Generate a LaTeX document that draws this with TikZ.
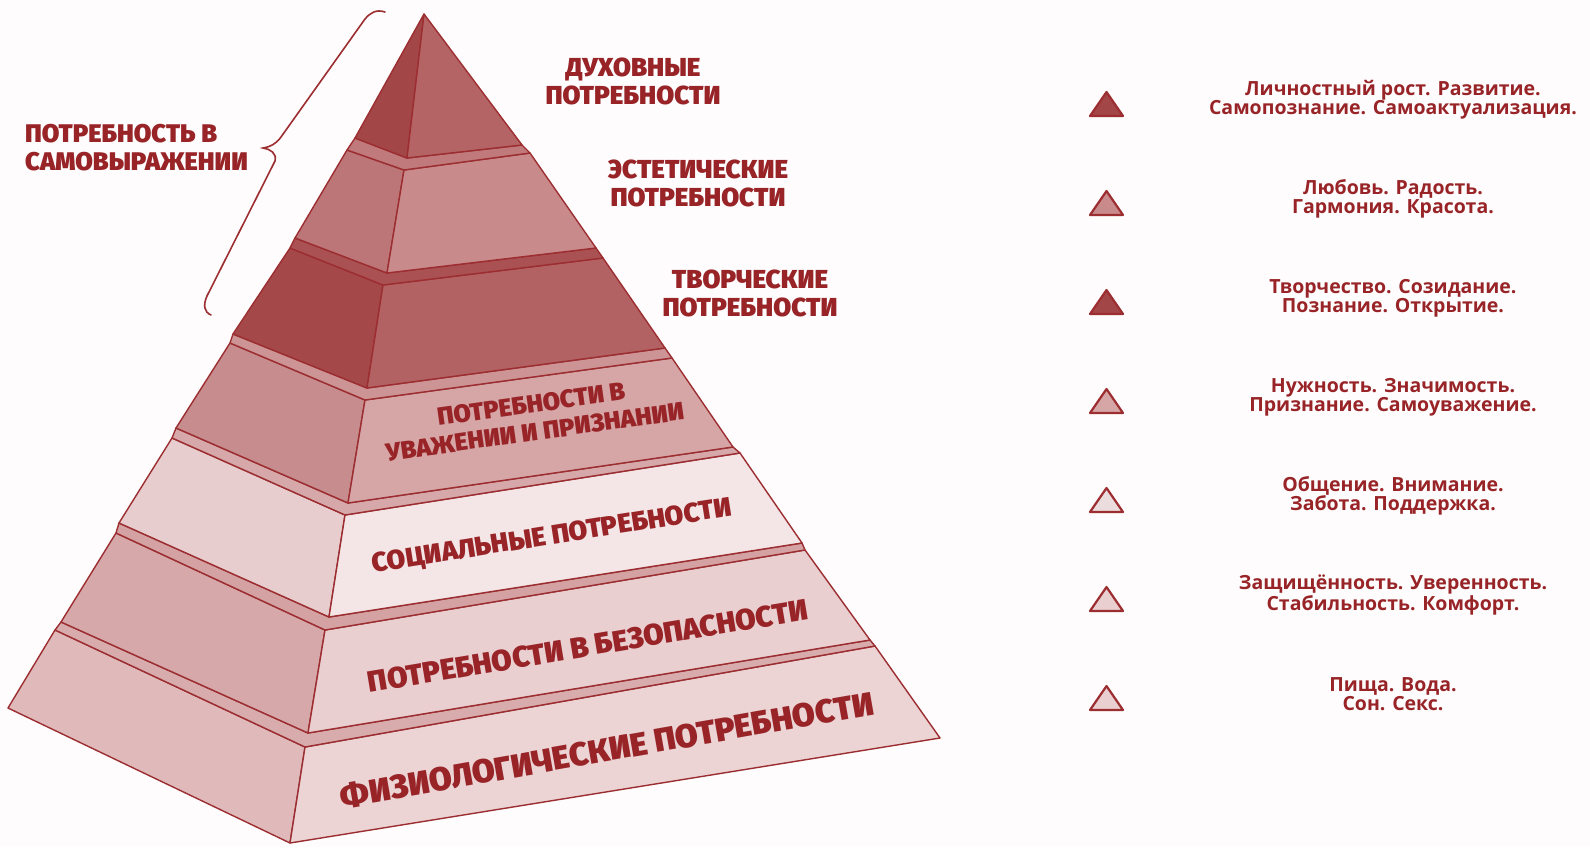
\documentclass[tikz,border=0pt]{standalone}
\usepackage{fontspec}
\setmainfont{Open Sans}
\newfontfamily\capsfont{Fira Sans Black}
\usetikzlibrary{positioning}

% tones of the pyramid
\definecolor{ink}{RGB}{152,36,40}
\definecolor{edge}{RGB}{156,46,50}
\definecolor{paper}{RGB}{254,252,252}
\definecolor{side1}{RGB}{163,70,72}   \definecolor{front1}{RGB}{180,100,101}
\definecolor{side2}{RGB}{188,118,119} \definecolor{front2}{RGB}{201,138,139} \definecolor{ledge2}{RGB}{192,122,123}
\definecolor{side3}{RGB}{164,72,73}   \definecolor{front3}{RGB}{178,98,99}   \definecolor{ledge3}{RGB}{170,82,83}
\definecolor{side4}{RGB}{199,140,141} \definecolor{front4}{RGB}{214,166,167} \definecolor{ledge4}{RGB}{205,148,149}
\definecolor{side5}{RGB}{232,205,206} \definecolor{front5}{RGB}{244,229,230} \definecolor{ledge5}{RGB}{214,168,169}
\definecolor{side6}{RGB}{214,168,169} \definecolor{front6}{RGB}{234,207,208} \definecolor{ledge6}{RGB}{212,162,163}
\definecolor{side7}{RGB}{224,186,187} \definecolor{front7}{RGB}{236,212,213} \definecolor{ledge7}{RGB}{216,172,173}
\definecolor{mark5}{RGB}{235,220,221}

\tikzset{
  face/.style={draw=edge, line width=1.4pt, line join=round},
  caps/.style={font=\capsfont\fontsize{26}{28}\selectfont, text=ink, align=center, inner sep=0pt},
  note/.style={font=\bfseries\fontsize{19.5}{19}\selectfont, text=ink, align=center, inner sep=0pt},
  levelmark/.style={draw=edge, line width=2.2pt, line join=round}
}

\begin{document}
\begin{tikzpicture}[x=1pt,y=-1pt]
  \fill[paper] (0,0) rectangle (1590,847);
  \useasboundingbox (0,0) rectangle (1590,847);

  % corners of the blocks: L/F/R = left, front, right, t/b = top, bottom
  \coordinate (apex) at (424,14);
  \coordinate (Lb1) at (355,138); \coordinate (Fb1) at (407,158); \coordinate (Rb1) at (522,145);
  \coordinate (Lt2) at (347,150); \coordinate (Ft2) at (404,170); \coordinate (Rt2) at (530,153);
  \coordinate (Lb2) at (295,238); \coordinate (Fb2) at (387,273); \coordinate (Rb2) at (596,248);
  \coordinate (Lt3) at (290,248); \coordinate (Ft3) at (383,285); \coordinate (Rt3) at (603,258);
  \coordinate (Lb3) at (233,334); \coordinate (Fb3) at (367,388); \coordinate (Rb3) at (665,348);
  \coordinate (Lt4) at (230,343); \coordinate (Ft4) at (365,400); \coordinate (Rt4) at (672,358);
  \coordinate (Lb4) at (176,428); \coordinate (Fb4) at (348,503); \coordinate (Rb4) at (733,447);
  \coordinate (Lt5) at (172,438); \coordinate (Ft5) at (345,515); \coordinate (Rt5) at (740,453);
  \coordinate (Lb5) at (119,523); \coordinate (Fb5) at (329,617); \coordinate (Rb5) at (802,543);
  \coordinate (Lt6) at (116,533); \coordinate (Ft6) at (325,630); \coordinate (Rt6) at (805,550);
  \coordinate (Lb6) at (61,622);  \coordinate (Fb6) at (308,733); \coordinate (Rb6) at (870,640);
  \coordinate (Lt7) at (55,630);  \coordinate (Ft7) at (305,747); \coordinate (Rt7) at (875,646);
  \coordinate (Lb7) at (8,708);   \coordinate (Fb7) at (290,843); \coordinate (Rb7) at (940,738);

  % blocks from the bottom up, each with the ledge it carries
  \foreach \k/\up in {7/6,6/5,5/4,4/3,3/2,2/1}{
    \draw[face, fill=side\k] (Lt\k) -- (Ft\k) -- (Fb\k) -- (Lb\k) -- cycle;
    \draw[face, fill=front\k] (Ft\k) -- (Rt\k) -- (Rb\k) -- (Fb\k) -- cycle;
    \draw[face, fill=ledge\k] (Lt\k) -- (Ft\k) -- (Rt\k) -- (Rb\up) -- (Fb\up) -- (Lb\up) -- cycle;
  }
  % top
  \draw[face, fill=side1] (apex) -- (Lb1) -- (Fb1) -- cycle;
  \draw[face, fill=front1] (apex) -- (Fb1) -- (Rb1) -- cycle;

  % brace
  \draw[edge, line width=1.6pt, line cap=round]
    (385,12) .. controls (376,9) and (370,13) .. (365,19) -- (281,137)
    .. controls (276,144) and (270,147) .. (263,148)
    .. controls (270,149) and (277,153) .. (275,161) -- (207,296)
    .. controls (203,305) and (204,312) .. (211,315);

  % names of the levels
  \node[caps, font=\capsfont\fontsize{25.5}{28}\selectfont, anchor=west, align=left] (selfexpr) at (25,148) {ПОТРЕБНОСТЬ В\\САМОВЫРАЖЕНИИ};
  \node[caps] (spirit) at (633,81) {ДУХОВНЫЕ\\ПОТРЕБНОСТИ};
  \node[caps] (aesth) at (698,183) {ЭСТЕТИЧЕСКИЕ\\ПОТРЕБНОСТИ};
  \node[caps] (creat) at (750,293) {ТВОРЧЕСКИЕ\\ПОТРЕБНОСТИ};
  \node[caps, font=\capsfont\fontsize{25}{28}\selectfont, rotate=8] (esteem) at (533,418) {ПОТРЕБНОСТИ В\\УВАЖЕНИИ И ПРИЗНАНИИ};
  \node[caps, font=\capsfont\fontsize{27}{28}\selectfont, rotate=9] (social) at (552,537) {СОЦИАЛЬНЫЕ ПОТРЕБНОСТИ};
  \node[caps, font=\capsfont\fontsize{29.5}{30}\selectfont, rotate=9.5] (safety) at (588,646) {ПОТРЕБНОСТИ В БЕЗОПАСНОСТИ};
  \node[caps, font=\capsfont\fontsize{33}{34}\selectfont, rotate=10] (physio) at (607,750) {ФИЗИОЛОГИЧЕСКИЕ ПОТРЕБНОСТИ};

  % legend on the right
  \foreach \i/\c/\col/\txt in {
      1/104/side1/{Личностный рост. Развитие.\\Самопознание. Самоактуализация.},
      2/203/front2/{Любовь. Радость.\\Гармония. Красота.},
      3/302/side1/{Творчество. Созидание.\\Познание. Открытие.},
      4/401/front4/{Нужность. Значимость.\\Признание. Самоуважение.},
      5/500/mark5/{Общение. Внимание.\\Забота. Поддержка.},
      6/599/front6/{Защищённость. Уверенность.\\Стабильность. Комфорт.},
      7/698/front6/{Пища. Вода.\\Сон. Секс.}}{
    \draw[levelmark, fill=\col] (1106.5,\c-12) -- (1123,\c+12) -- (1090,\c+12) -- cycle;
    \node[note] (note\i) at (1393,\c-4) {\txt};
  }
\end{tikzpicture}
\end{document}
